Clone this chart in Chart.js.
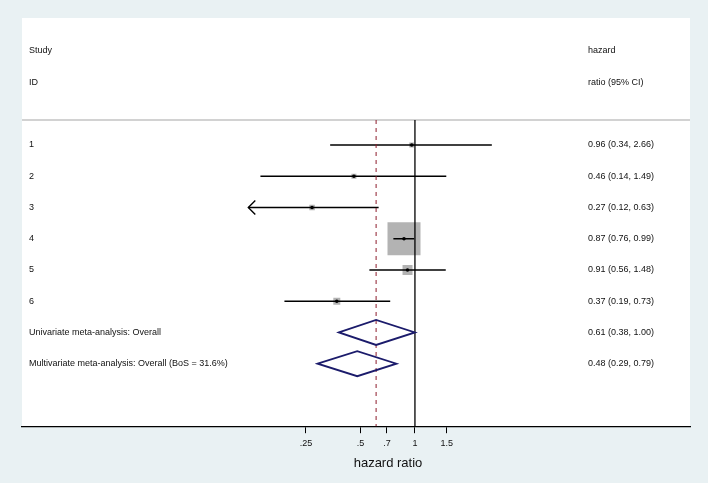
<!DOCTYPE html>
<html>
<head>
<meta charset="utf-8">
<script src="https://cdn.jsdelivr.net/npm/chart.js@4/dist/chart.umd.min.js"></script>
<style>
  html, body { margin: 0; padding: 0; background: #e9f1f3; overflow: hidden; }
  #wrap { width: 708px; height: 483px; }
</style>
</head>
<body>
<div id="wrap"><canvas id="forest"></canvas></div>
<script>
// study rows
const studyIds = ['1', '2', '3', '4', '5', '6'];
const hr = [0.96, 0.46, 0.27, 0.87, 0.91, 0.37];
const ciLow = [0.34, 0.14, 0.12, 0.76, 0.56, 0.19];
const ciHigh = [2.66, 1.49, 0.63, 0.99, 1.48, 0.73];
const weights = [1.9, 1.9, 2.3, 82.6, 7.6, 3.7];

// pooled rows
const pooledLabels = ['Univariate meta-analysis: Overall', 'Multivariate meta-analysis: Overall (BoS = 31.6%)'];
const pooledHr = [0.61, 0.48];
const pooledLow = [0.38, 0.29];
const pooledHigh = [1.00, 0.79];

const xTicks = [0.25, 0.5, 0.7, 1, 1.5];
const xTickLabels = ['.25', '.5', '.7', '1', '1.5'];
const clipBelow = 0.125; // CIs under this get an arrow

const FONT = '"Liberation Sans", Arial, sans-serif';
const fmt = (e, l, h) => e.toFixed(2) + ' (' + l.toFixed(2) + ', ' + h.toFixed(2) + ')';

const rowY = i => i + 1;

const ciSets = studyIds.map((id, i) => ({
  type: 'line',
  data: [{ x: ciLow[i], y: rowY(i) }, { x: ciHigh[i], y: rowY(i) }],
  borderColor: '#000',
  borderWidth: 1.4,
  pointRadius: 0,
  order: 1
}));

const boxSet = {
  type: 'scatter',
  data: hr.map((v, i) => ({ x: v, y: rowY(i) })),
  pointStyle: 'rect',
  pointRadius: weights.map(w => 3.63 * Math.sqrt(w) / Math.SQRT2),
  backgroundColor: '#b3b3b3',
  borderWidth: 0,
  order: 2
};

const dotSet = {
  type: 'scatter',
  data: hr.map((v, i) => ({ x: v, y: rowY(i) })),
  pointStyle: 'circle',
  pointRadius: 1.8,
  backgroundColor: '#000',
  borderWidth: 0,
  order: 0
};

const forestPlugin = {
  id: 'forest',
  beforeDraw(chart) {
    const { ctx, chartArea: a } = chart;
    ctx.save();
    ctx.fillStyle = '#e9f1f3';
    ctx.fillRect(0, 0, chart.width, chart.height);
    ctx.fillStyle = '#fff';
    ctx.fillRect(a.left, 18, a.right - a.left, a.bottom - 18);
    ctx.strokeStyle = '#d2d2d2';
    ctx.lineWidth = 2;
    ctx.beginPath();
    ctx.moveTo(a.left, a.top);
    ctx.lineTo(a.right, a.top);
    ctx.stroke();
    ctx.restore();
  },
  afterDatasetsDraw(chart) {
    const { ctx, chartArea: a, scales: { x, y } } = chart;
    ctx.save();

    // pooled estimate (dashed) and null line
    const xp = x.getPixelForValue(pooledHr[0]);
    ctx.strokeStyle = '#8e1c2c';
    ctx.lineWidth = 1;
    ctx.setLineDash([4, 4]);
    ctx.beginPath();
    ctx.moveTo(xp, a.top);
    ctx.lineTo(xp, a.bottom);
    ctx.stroke();
    ctx.setLineDash([]);
    const x1 = x.getPixelForValue(1);
    ctx.strokeStyle = '#000';
    ctx.lineWidth = 1.3;
    ctx.beginPath();
    ctx.moveTo(x1, a.top);
    ctx.lineTo(x1, a.bottom);
    ctx.stroke();

    // arrows for clipped CIs
    ctx.lineWidth = 1.4;
    ciLow.forEach((l, i) => {
      if (l >= clipBelow) return;
      const px = x.getPixelForValue(l), py = y.getPixelForValue(rowY(i));
      ctx.beginPath();
      ctx.moveTo(px + 7, py - 7);
      ctx.lineTo(px, py);
      ctx.lineTo(px + 7, py + 7);
      ctx.stroke();
    });

    // diamonds
    ctx.strokeStyle = '#1b1b6b';
    ctx.lineWidth = 1.8;
    pooledHr.forEach((e, j) => {
      const py = y.getPixelForValue(rowY(studyIds.length + j));
      const pl = x.getPixelForValue(pooledLow[j]);
      const pe = x.getPixelForValue(e);
      const ph = x.getPixelForValue(pooledHigh[j]);
      ctx.beginPath();
      ctx.moveTo(pl, py);
      ctx.lineTo(pe, py - 12.5);
      ctx.lineTo(ph, py);
      ctx.lineTo(pe, py + 12.5);
      ctx.closePath();
      ctx.stroke();
    });

    // text columns
    ctx.fillStyle = '#111';
    ctx.font = '9px ' + FONT;
    ctx.textBaseline = 'middle';
    ctx.textAlign = 'left';
    const lx = a.left + 7, rx = 588;
    ctx.fillText('Study', lx, 51);
    ctx.fillText('ID', lx, 83);
    ctx.fillText('hazard', rx, 51);
    ctx.fillText('ratio (95% CI)', rx, 83);
    studyIds.forEach((id, i) => {
      const py = y.getPixelForValue(rowY(i));
      ctx.fillText(id, lx, py);
      ctx.fillText(fmt(hr[i], ciLow[i], ciHigh[i]), rx, py);
    });
    pooledLabels.forEach((lab, j) => {
      const py = y.getPixelForValue(rowY(studyIds.length + j));
      ctx.fillText(lab, lx, py);
      ctx.fillText(fmt(pooledHr[j], pooledLow[j], pooledHigh[j]), rx, py);
    });

    // axis title
    ctx.font = '13px ' + FONT;
    ctx.textAlign = 'center';
    ctx.fillText('hazard ratio', 388, 463);
    ctx.restore();
  }
};

new Chart(document.getElementById('forest'), {
  type: 'scatter',
  data: { datasets: [...ciSets, boxSet, dotSet] },
  options: {
    responsive: true,
    maintainAspectRatio: false,
    animation: false,
    events: [],
    layout: { autoPadding: false, padding: { left: 22, right: 18, top: 120, bottom: 29 } },
    plugins: { legend: { display: false }, tooltip: { enabled: false } },
    scales: {
      x: {
        type: 'logarithmic',
        min: Math.exp(-5),
        max: Math.exp(3.5),
        afterBuildTicks: scale => { scale.ticks = xTicks.map(v => ({ value: v })); },
        afterFit: scale => { scale.paddingLeft = 0; scale.paddingRight = 0; },
        ticks: {
          autoSkip: false,
          maxRotation: 0,
          color: '#111',
          padding: 5,
          font: { family: FONT, size: 9 },
          callback: (v) => xTickLabels[xTicks.indexOf(v)]
        },
        grid: { drawOnChartArea: false, drawTicks: true, tickLength: 7, color: '#000', lineWidth: 1 },
        border: { display: true, color: '#000', width: 1.3 },
        title: { display: false }
      },
      y: {
        type: 'linear',
        display: false,
        reverse: true,
        min: 0.2,
        max: 10
      }
    }
  },
  plugins: [forestPlugin]
});
</script>
</body>
</html>
